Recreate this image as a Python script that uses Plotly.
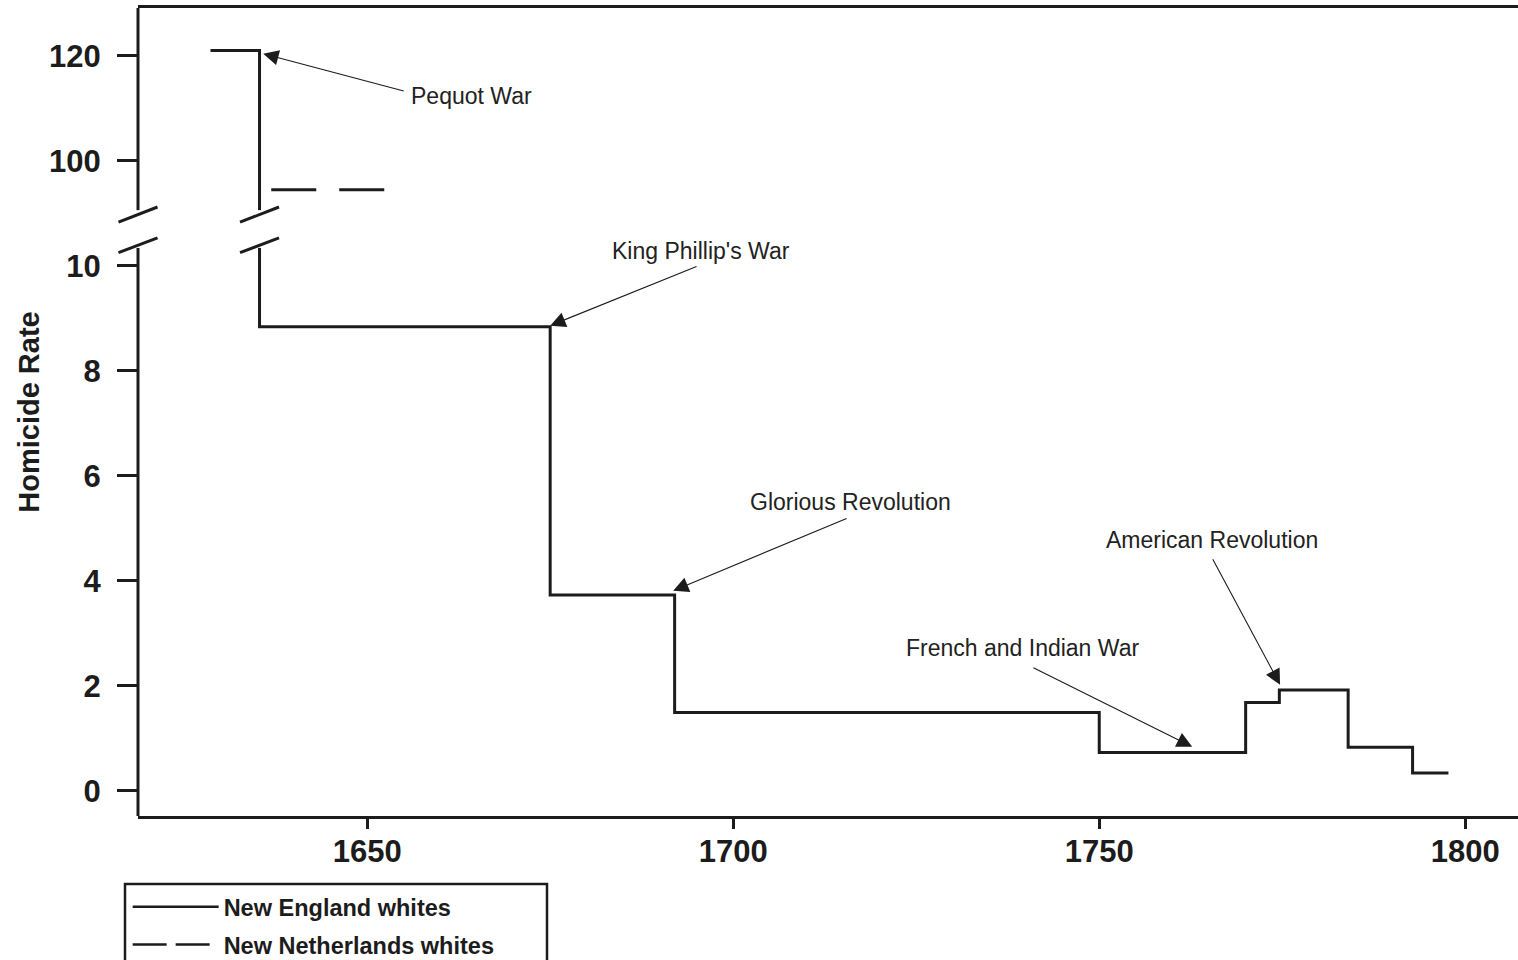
import plotly.graph_objects as go

# ---- data ----
ne_years = [1628.6, 1635.3, 1675, 1692, 1750, 1770, 1774.6, 1784, 1792.8, 1797.7]
ne_rates = [121, 8.84, 3.73, 1.49, 0.73, 1.68, 1.92, 0.83, 0.34, 0.34]

nn_years = [1636.9, 1653.1]
nn_rates = [94.5, 94.5]

y_tick_values = [0, 2, 4, 6, 8, 10, 100, 120]
x_tick_values = [1650, 1700, 1750, 1800]

events = ["Pequot War", "King Phillip's War", "Glorious Revolution",
          "French and Indian War", "American Revolution"]
event_tip_year = [1635.8, 1675.0, 1691.8, 1762.7, 1774.7]
event_tip_rate = [120.4, 8.86, 3.81, 0.84, 2.02]
event_tail_year = [1655.2, 1695.2, 1715.7, 1740.8, 1765.4]
event_tail_rate = [113.2, 10.0, 5.2, 2.36, 4.44]
event_text_year = [1664.2, 1695.6, 1716.0, 1739.5, 1765.4]
event_text_rate = [112.4, 10.29, 5.5, 2.72, 4.78]

BREAK_LO, BREAK_HI = 10.34, 11.06


def to_axis(v):
    """Broken axis: 0-10 linear, then 100-120 compressed (10 units -> 1)."""
    return v if v <= 10.5 else 12 + (v - 100) / 10.0


INK = "#1c1c1c"
fig = go.Figure()

fig.add_trace(go.Scatter(
    x=ne_years, y=[to_axis(v) for v in ne_rates], mode="lines",
    line=dict(shape="hv", color=INK, width=3), name="New England whites",
    showlegend=False))
fig.add_trace(go.Scatter(
    x=nn_years, y=[to_axis(v) for v in nn_rates], mode="lines",
    line=dict(color=INK, width=3, dash="45px,23px"),
    name="New Netherlands whites", showlegend=False))
# legend proxies
fig.add_trace(go.Scatter(x=[None], y=[None], mode="lines", legendgroup="a",
                         line=dict(color=INK, width=2.5), name="New England whites"))
fig.add_trace(go.Scatter(x=[None], y=[None], mode="lines", legendgroup="b",
                         line=dict(color=INK, width=2.5, dash="34px,9px"),
                         name="New Netherlands whites"))

X0, X1 = 1618.7, 1807.2
Y0, Y1 = -0.48, 14.91
PLOT_W, PLOT_H = 1380, 808

shapes = []
# left axis line with a break
shapes.append(dict(type="line", xref="paper", yref="y", x0=0, x1=0, y0=Y0, y1=BREAK_LO,
                   line=dict(color=INK, width=3)))
shapes.append(dict(type="line", xref="paper", yref="y", x0=0, x1=0, y0=BREAK_HI, y1=Y1,
                   line=dict(color=INK, width=3)))
# white gap in the Pequot step line
step_x = ne_years[1]
dx_year = 4 / 7.32
shapes.append(dict(type="rect", xref="x", yref="y", x0=step_x - dx_year, x1=step_x + dx_year,
                   y0=BREAK_LO, y1=BREAK_HI, fillcolor="white", line=dict(width=0),
                   layer="above"))
# break slashes
half_paper = 19.5 / PLOT_W
half_year = 19.5 / 7.32
for (lo, hi) in [(10.25, 10.53), (10.83, 11.12)]:
    shapes.append(dict(type="line", xref="paper", yref="y", x0=-half_paper, x1=half_paper,
                       y0=lo, y1=hi, line=dict(color=INK, width=3)))
    shapes.append(dict(type="line", xref="x", yref="y", x0=step_x - half_year,
                       x1=step_x + half_year, y0=lo, y1=hi, line=dict(color=INK, width=3)))
# legend frame
shapes.append(dict(type="rect", xref="paper", yref="paper",
                   x0=-13 / PLOT_W, x1=409 / PLOT_W, y0=-68 / PLOT_H, y1=-160 / PLOT_H,
                   line=dict(color=INK, width=2.5), fillcolor="rgba(0,0,0,0)"))

annotations = []
for name, tx, ty, ax, ay, lx, ly in zip(events, event_tip_year, event_tip_rate,
                                         event_tail_year, event_tail_rate,
                                         event_text_year, event_text_rate):
    annotations.append(dict(
        x=tx, y=to_axis(ty), xref="x", yref="y", ax=ax, ay=to_axis(ay),
        axref="x", ayref="y", text="", showarrow=True, arrowhead=2,
        arrowsize=2.8, arrowwidth=1.1, arrowcolor=INK, standoff=0, startstandoff=0))
    annotations.append(dict(
        x=lx, y=to_axis(ly), xref="x", yref="y", text=name, showarrow=False,
        font=dict(family="Liberation Sans, Arial, sans-serif", size=23, color="#222222")))

tick_font = dict(family="Liberation Sans, Arial, sans-serif", size=31, color=INK,
                 weight="bold")

fig.update_layout(
    width=1518, height=960,
    margin=dict(l=138, r=0, t=8, b=144, autoexpand=False),
    paper_bgcolor="white", plot_bgcolor="white",
    shapes=shapes, annotations=annotations,
    xaxis=dict(range=[X0, X1], tickvals=x_tick_values,
               ticktext=[str(v) for v in x_tick_values],
               showgrid=False, zeroline=False, showline=True, mirror=True,
               linecolor=INK, linewidth=3, ticks="outside", ticklen=10,
               tickwidth=3, tickcolor=INK, tickfont=tick_font, ticklabelstandoff=-4),
    yaxis=dict(range=[Y0, Y1], tickvals=[to_axis(v) for v in y_tick_values],
               ticktext=[str(v) for v in y_tick_values],
               showgrid=False, zeroline=False, showline=False,
               ticks="outside", ticklen=20, tickwidth=3, tickcolor=INK,
               tickfont=tick_font, ticklabelstandoff=10,
               title=dict(text="Homicide Rate", standoff=0,
                          font=dict(family="Liberation Sans, Arial, sans-serif",
                                    size=29, color=INK, weight="bold"))),
    legend=dict(x=-0.0075, y=-0.0855, xanchor="left", yanchor="top",
                borderwidth=0, bgcolor="rgba(0,0,0,0)",
                itemwidth=86, tracegroupgap=4,
                font=dict(family="Liberation Sans, Arial, sans-serif",
                          size=23.5, color=INK, weight="bold")),
)

fig.write_html("out.html", config={"displayModeBar": False},
               post_script="document.body.style.margin='0px';")
